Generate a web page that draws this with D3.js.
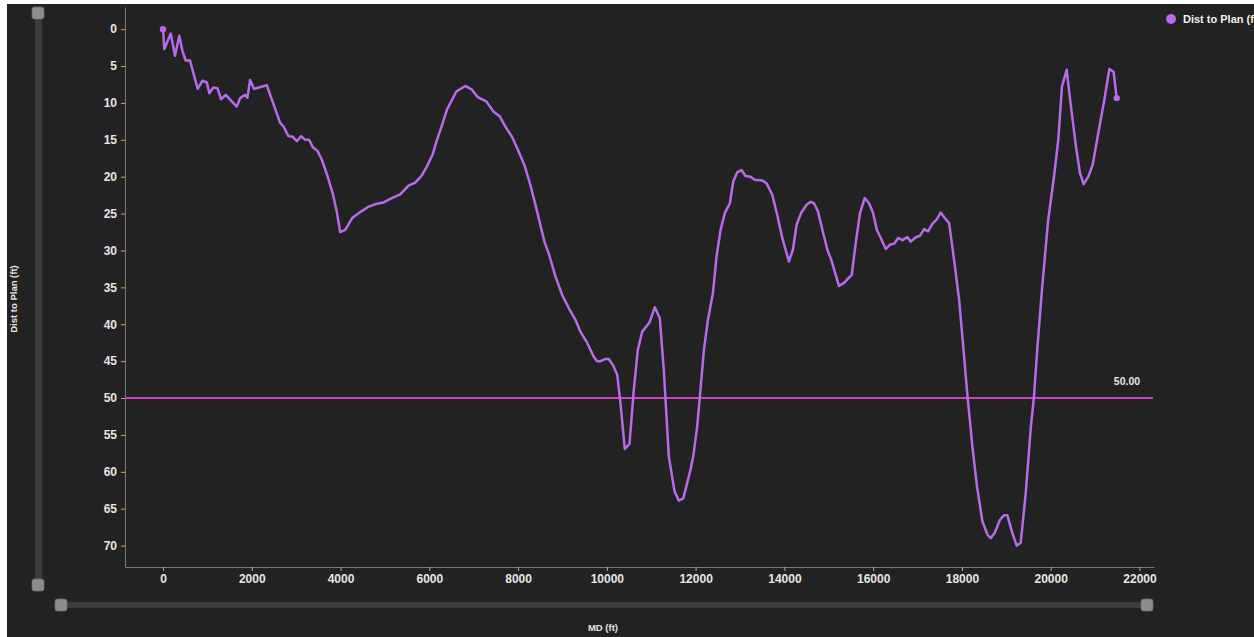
<!DOCTYPE html>
<html>
<head>
<meta charset="utf-8">
<script src="https://cdn.jsdelivr.net/npm/d3@7"></script>
<style>
  html, body { margin: 0; padding: 0; background: #ffffff; }
  svg { display: block; }
  text { font-family: "Liberation Sans", Arial, sans-serif; }
</style>
</head>
<body>
<svg id="chart" width="1254" height="637"></svg>
<script>
// ---- data ----
const md = [0,30,174,270,368,435,511,609,782,887,985,1045,1135,1226,1309,1413,1662,1737,1850,1902,1962,2052,2338,2639,2714,2827,2925,3015,3113,3203,3293,3376,3480,3579,3700,3830,3920,3992,4105,4263,4443,4620,4800,4962,5120,5345,5533,5683,5834,5947,6074,6173,6286,6398,6608,6811,6962,7088,7284,7449,7585,7713,7864,8013,8141,8277,8428,8593,8690,8841,8992,9141,9292,9405,9555,9705,9781,9856,9969,10043,10134,10232,10307,10404,10510,10607,10697,10796,10961,11080,11193,11283,11396,11525,11622,11721,11811,11885,11946,12036,12100,12186,12277,12389,12472,12562,12660,12772,12848,12938,13035,13125,13238,13328,13501,13599,13727,13839,13952,14102,14192,14276,14381,14501,14592,14667,14757,14855,14968,15058,15230,15343,15517,15607,15704,15810,15907,15997,16081,16171,16284,16381,16471,16562,16659,16772,16847,16960,17057,17147,17237,17335,17433,17523,17613,17711,17824,17937,18036,18126,18239,18340,18460,18573,18647,18737,18857,18948,19023,19136,19234,19324,19437,19554,19620,19702,19800,19940,20080,20170,20253,20359,20456,20569,20659,20742,20847,20945,21058,21208,21321,21418,21486];
const distToPlan = [0,2.7,0.6,3.6,0.9,2.9,4.25,4.25,8.1,7.0,7.2,8.7,7.9,8.0,9.5,8.9,10.5,9.35,8.9,9.3,6.9,8.1,7.6,12.7,13.2,14.5,14.6,15.2,14.5,15.0,15.0,16.0,16.5,17.7,19.8,22.4,24.9,27.5,27.2,25.6,24.8,24.1,23.7,23.5,23.0,22.4,21.2,20.8,19.8,18.6,17.0,15.0,13.0,10.9,8.45,7.7,8.2,9.2,9.8,11.2,11.8,13.2,14.6,16.6,18.4,21.1,24.7,28.8,30.4,33.5,36.0,37.8,39.4,41.0,42.5,44.4,45.0,45.0,44.7,44.7,45.5,46.8,50.7,56.9,56.2,48.9,43.5,41.0,39.75,37.7,39.2,46.2,57.9,62.65,63.9,63.6,61.5,59.7,57.9,53.8,49.5,43.5,39.4,35.8,30.8,27.2,24.9,23.6,20.65,19.4,19.1,19.9,20.0,20.4,20.5,20.9,22.45,25.2,28.3,31.5,29.9,26.5,24.85,23.8,23.4,23.6,24.7,27.2,29.9,31.3,34.8,34.4,33.3,29.0,24.9,22.9,23.6,24.9,27.2,28.3,29.8,29.2,29.1,28.3,28.6,28.2,28.8,28.2,28.0,27.1,27.4,26.4,25.8,24.85,25.6,26.3,31.3,36.7,43.5,49.8,56.8,62.0,66.7,68.5,69.0,68.3,66.5,65.9,65.9,68.3,70.0,69.6,62.9,53.8,50.0,43.0,35.5,26.0,19.7,15.0,7.8,5.5,10.5,15.9,19.5,21.0,20.0,18.4,14.55,9.6,5.4,5.8,9.35];
const xTicks = [0,2000,4000,6000,8000,10000,12000,14000,16000,18000,20000,22000];
const yTicks = [0,5,10,15,20,25,30,35,40,45,50,55,60,65,70];
const thresholdValue = [50];
const seriesName = "Dist to Plan (ft)";
const xTitle = "MD (ft)";
const yTitle = "Dist to Plan (ft)";

// ---- drawing ----
const svg = d3.select("#chart");
const W = 1254, H = 637;
const lineColor = "#b86be8";
const thrColor = "#d43ccb";
const tickColor = "#bfa86a";
const labelColor = "#e6e6e6";

svg.append("rect").attr("x", 7).attr("y", 4).attr("width", W - 7).attr("height", H - 4).attr("fill", "#222222");

const x = d3.scaleLinear().domain([-856, 22327]).range([125, 1154]);
const y = d3.scaleLinear().domain([-3, 72.9]).range([7, 567]);

// y axis
const yAxis = svg.append("g").attr("transform", "translate(125,0)")
  .call(d3.axisLeft(y).tickValues(yTicks).tickSize(4).tickPadding(4).tickSizeOuter(0));
// x axis
const xAxis = svg.append("g").attr("transform", "translate(0,567)")
  .call(d3.axisBottom(x).tickValues(xTicks).tickFormat(d3.format("d")).tickSize(4).tickPadding(3).tickSizeOuter(0));

[yAxis, xAxis].forEach(g => {
  g.select(".domain").attr("stroke", "#7a7a7a").attr("stroke-width", 1);
  g.selectAll(".tick line").attr("stroke", tickColor).attr("stroke-width", 1);
  g.selectAll(".tick text").attr("fill", labelColor).attr("font-size", 12).attr("font-weight", "bold")
    .attr("font-family", "'Liberation Sans', Arial, sans-serif");
});

// threshold line
svg.selectAll(".thr").data(thresholdValue).enter().append("line")
  .attr("x1", 125).attr("x2", 1153)
  .attr("y1", d => y(d)).attr("y2", d => y(d))
  .attr("stroke", thrColor).attr("stroke-width", 2);
svg.selectAll(".thrLabel").data(thresholdValue).enter().append("text")
  .attr("x", 1127).attr("y", d => y(d) - 13)
  .attr("text-anchor", "middle").attr("fill", labelColor)
  .attr("font-size", 10.5).attr("font-weight", "bold")
  .text(d => d.toFixed(2));

// series line
const pts = md.map((m, i) => [m, distToPlan[i]]);
svg.append("path").datum(pts)
  .attr("fill", "none").attr("stroke", lineColor).attr("stroke-width", 2.5)
  .attr("stroke-linejoin", "round")
  .attr("d", d3.line().x(d => x(d[0])).y(d => y(d[1])));
svg.selectAll(".endpt").data([pts[0], pts[pts.length - 1]]).enter().append("circle")
  .attr("cx", d => x(d[0])).attr("cy", d => y(d[1])).attr("r", 3.2).attr("fill", lineColor);

// legend
svg.append("circle").attr("cx", 1171).attr("cy", 19).attr("r", 5).attr("fill", lineColor);
svg.append("text").attr("x", 1183).attr("y", 23).attr("fill", "#f0f0f0")
  .attr("font-size", 11).attr("font-weight", "bold").text(seriesName);

// axis titles
svg.append("text").attr("transform", "translate(17,299) rotate(-90)")
  .attr("text-anchor", "middle").attr("fill", labelColor)
  .attr("font-size", 9.5).attr("font-weight", "bold").text(yTitle);
svg.append("text").attr("x", 603).attr("y", 631)
  .attr("text-anchor", "middle").attr("fill", labelColor)
  .attr("font-size", 9.5).attr("font-weight", "bold").text(xTitle);

// sliders
svg.append("rect").attr("x", 35).attr("y", 13).attr("width", 7).attr("height", 572).attr("fill", "#3c3c3c");
svg.append("rect").attr("x", 61).attr("y", 602).attr("width", 1086).attr("height", 6).attr("fill", "#3c3c3c");
const handles = [[32, 7], [32, 579], [55, 599], [1141, 599]];
svg.selectAll(".handle").data(handles).enter().append("rect")
  .attr("x", d => d[0]).attr("y", d => d[1]).attr("width", 12).attr("height", 12)
  .attr("rx", 2.5).attr("fill", "#8c8c8c").attr("stroke", "#6e6e6e").attr("stroke-width", 0.8);
</script>
</body>
</html>
